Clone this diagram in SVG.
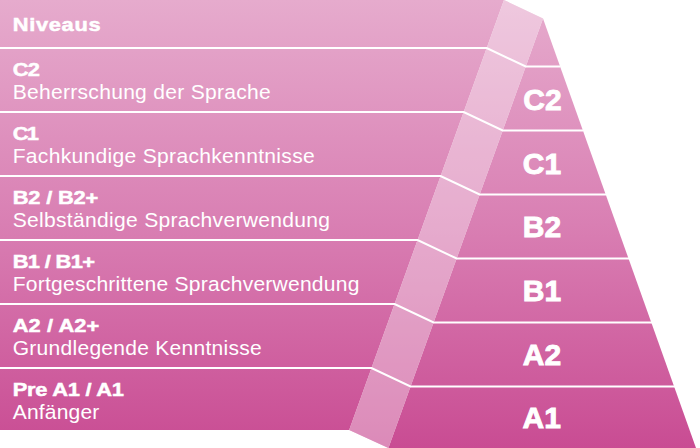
<svg xmlns="http://www.w3.org/2000/svg" width="700" height="448" viewBox="0 0 700 448">
  <defs>
    <linearGradient id="bg" gradientUnits="userSpaceOnUse" x1="0" y1="0" x2="0" y2="448">
      <stop offset="0" stop-color="#e6abcd"/>
      <stop offset="0.5" stop-color="#d97fb3"/>
      <stop offset="1" stop-color="#c94c93"/>
    </linearGradient>
    <style>
      .t { font-family: "Liberation Sans", Arial, sans-serif; fill: #ffffff; }
      .b { font-weight: bold; font-size: 19px; stroke: #ffffff; stroke-width: 0.5; }
      .r { font-size: 19.5px; }
      .p { font-weight: bold; font-size: 30px; text-anchor: middle; stroke: #ffffff; stroke-width: 0.9; }
      .sep { fill: none; stroke: #ffffff; stroke-width: 2; stroke-linejoin: miter; }
    </style>
  </defs>

  <!-- shapes -->
  <polygon points="0,0 504,0 349.2,430 0,430" fill="url(#bg)"/>
  <polygon points="543,18.5 696,448 388.4,448" fill="url(#bg)"/>
  <polygon points="504,0 543,18.5 388.4,448 349.2,430" fill="url(#bg)"/>
  <polygon points="504,0 543,18.5 388.4,448 349.2,430" fill="#ffffff" fill-opacity="0.35"/>

  <g id="connectors">
    <polyline class="sep" points="0,48 486.7,48 525.7,66.5 560.4,66.5"/>
    <polyline class="sep" points="0,112 463.7,112 502.7,130.5 583.3,130.5"/>
    <polyline class="sep" points="0,176 440.6,176 479.6,194.5 606.2,194.5"/>
    <polyline class="sep" points="0,240 417.6,240 456.6,258.5 629.1,258.5"/>
    <polyline class="sep" points="0,304 394.6,304 433.6,322.5 652,322.5"/>
    <polyline class="sep" points="0,368 371.5,368 410.5,386.5 675,386.5"/>
  </g>

  <g id="row-niveaus">
    <text class="t b" transform="translate(12.7 30.7) scale(1.15 1)" textLength="76.5" lengthAdjust="spacing">Niveaus</text>
  </g>
  <g id="row-c2">
    <text class="t b" transform="translate(12.7 76) scale(1.15 1)" textLength="23.7" lengthAdjust="spacing">C2</text>
    <text class="t r" transform="translate(12.7 99.3) scale(1.08 1)" textLength="238.9" lengthAdjust="spacing">Beherrschung der Sprache</text>
  </g>
  <g id="row-c1">
    <text class="t b" transform="translate(12.7 139.5) scale(1.15 1)" textLength="22.9" lengthAdjust="spacing">C1</text>
    <text class="t r" transform="translate(12.7 163) scale(1.08 1)" textLength="279.6" lengthAdjust="spacing">Fachkundige Sprachkenntnisse</text>
  </g>
  <g id="row-b2">
    <text class="t b" transform="translate(12.7 203.5) scale(1.15 1)" textLength="74.5" lengthAdjust="spacing">B2 / B2+</text>
    <text class="t r" transform="translate(12.7 227) scale(1.08 1)" textLength="293.8" lengthAdjust="spacing">Selbständige Sprachverwendung</text>
  </g>
  <g id="row-b1">
    <text class="t b" transform="translate(12.7 267.5) scale(1.15 1)" textLength="71.6" lengthAdjust="spacing">B1 / B1+</text>
    <text class="t r" transform="translate(12.7 291) scale(1.08 1)" textLength="321" lengthAdjust="spacing">Fortgeschrittene Sprachverwendung</text>
  </g>
  <g id="row-a2">
    <text class="t b" transform="translate(12.7 331.5) scale(1.15 1)" textLength="75.3" lengthAdjust="spacing">A2 / A2+</text>
    <text class="t r" transform="translate(12.7 355) scale(1.08 1)" textLength="230.6" lengthAdjust="spacing">Grundlegende Kenntnisse</text>
  </g>
  <g id="row-a1">
    <text class="t b" transform="translate(12.7 395.5) scale(1.15 1)" textLength="96.8" lengthAdjust="spacing">Pre A1 / A1</text>
    <text class="t r" transform="translate(12.7 419) scale(1.08 1)" textLength="80.2" lengthAdjust="spacing">Anfänger</text>
  </g>

  <g id="tier-c2"><text class="t p" x="542.5" y="110">C2</text></g>
  <g id="tier-c1"><text class="t p" x="542" y="174">C1</text></g>
  <g id="tier-b2"><text class="t p" x="542" y="237">B2</text></g>
  <g id="tier-b1"><text class="t p" x="542" y="301">B1</text></g>
  <g id="tier-a2"><text class="t p" x="542" y="365">A2</text></g>
  <g id="tier-a1"><text class="t p" x="541.7" y="428">A1</text></g>
</svg>
